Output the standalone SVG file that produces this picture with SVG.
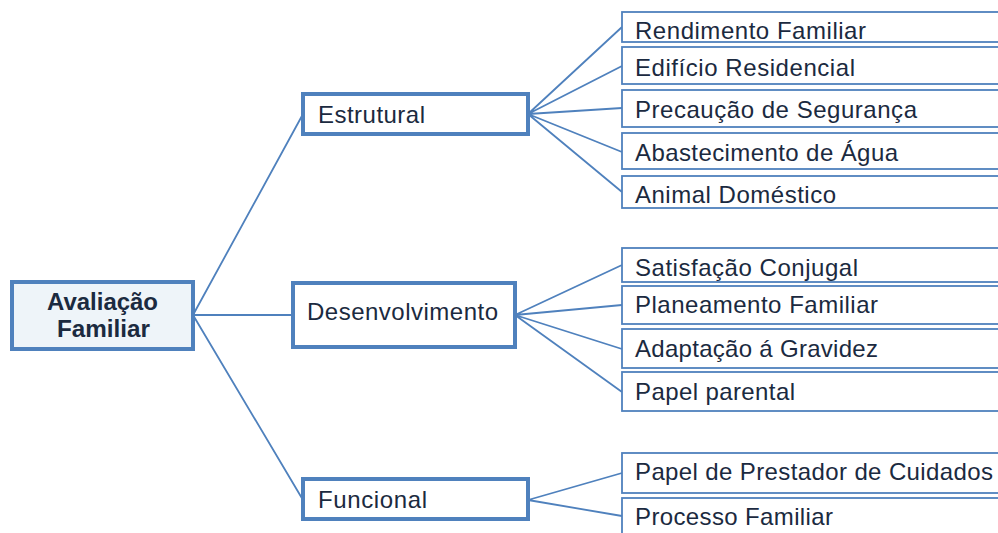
<svg xmlns="http://www.w3.org/2000/svg" width="998" height="533" viewBox="0 0 998 533">
<style>
.conn{fill:none;stroke:#4f81bd;stroke-width:1.8}
.root{fill:#eef4f9;stroke:#4f81bd;stroke-width:4}
.mid{fill:#ffffff;stroke:#4f81bd;stroke-width:4}
.leaf{fill:#ffffff;stroke:#4f81bd;stroke-width:1.8}
.t{font-family:"Liberation Sans",Arial,sans-serif;font-size:24px;fill:#1b2a40}
.tb{font-family:"Liberation Sans",Arial,sans-serif;font-size:23px;font-weight:bold;fill:#1b2a40}
</style>
<rect width="998" height="533" fill="#ffffff"/>
<g id="connectors">
<path class="conn" d="M193,315 L303,114 M193,315 L293,315 M193,315 L303,500"/>
<path class="conn" d="M528,114 L622,27 M528,114 L622,66 M528,114 L622,108 M528,114 L622,152 M528,114 L622,192"/>
<path class="conn" d="M515,315 L622,265 M515,315 L622,305 M515,315 L622,349 M515,315 L622,392"/>
<path class="conn" d="M528,500 L622,473 M528,500 L622,516"/>
</g>
<g id="root">
<rect class="root" x="12" y="282" width="181" height="67"/>
<text class="tb" x="47" y="310" textLength="111" lengthAdjust="spacingAndGlyphs">Avaliação</text>
<text class="tb" x="57" y="337" textLength="93" lengthAdjust="spacingAndGlyphs">Familiar</text>
</g>
<g id="estrutural">
<rect class="mid" x="303" y="94" width="225" height="40"/>
<text class="t" x="318" y="123" textLength="107" lengthAdjust="spacing">Estrutural</text>
</g>
<g id="desenvolvimento">
<rect class="mid" x="293" y="283" width="222" height="64"/>
<text class="t" x="307" y="320" textLength="191" lengthAdjust="spacing">Desenvolvimento</text>
</g>
<g id="funcional">
<rect class="mid" x="303" y="479" width="225" height="40"/>
<text class="t" x="318" y="508" textLength="109" lengthAdjust="spacing">Funcional</text>
</g>
<g id="rendimento-familiar">
<rect class="leaf" x="622" y="12" width="390" height="30"/>
<text class="t" x="635" y="39" textLength="231" lengthAdjust="spacing">Rendimento Familiar</text>
</g>
<g id="edificio-residencial">
<rect class="leaf" x="622" y="47" width="390" height="37"/>
<text class="t" x="635" y="76" textLength="220" lengthAdjust="spacing">Edifício Residencial</text>
</g>
<g id="precaucao-seguranca">
<rect class="leaf" x="622" y="90" width="390" height="37"/>
<text class="t" x="635" y="118" textLength="282" lengthAdjust="spacing">Precaução de Segurança</text>
</g>
<g id="abastecimento-agua">
<rect class="leaf" x="622" y="133" width="390" height="36"/>
<text class="t" x="635" y="161" textLength="263" lengthAdjust="spacing">Abastecimento de Água</text>
</g>
<g id="animal-domestico">
<rect class="leaf" x="622" y="176" width="390" height="32"/>
<text class="t" x="635" y="203" textLength="201" lengthAdjust="spacing">Animal Doméstico</text>
</g>
<g id="satisfacao-conjugal">
<rect class="leaf" x="622" y="248" width="390" height="34"/>
<text class="t" x="635" y="276" textLength="223" lengthAdjust="spacing">Satisfação Conjugal</text>
</g>
<g id="planeamento-familiar">
<rect class="leaf" x="622" y="286" width="390" height="38"/>
<text class="t" x="635" y="313" textLength="243" lengthAdjust="spacing">Planeamento Familiar</text>
</g>
<g id="adaptacao-gravidez">
<rect class="leaf" x="622" y="329" width="390" height="39"/>
<text class="t" x="635" y="357" textLength="243" lengthAdjust="spacing">Adaptação á Gravidez</text>
</g>
<g id="papel-parental">
<rect class="leaf" x="622" y="372" width="390" height="39"/>
<text class="t" x="635" y="400" textLength="160" lengthAdjust="spacing">Papel parental</text>
</g>
<g id="papel-prestador-cuidados">
<rect class="leaf" x="622" y="453" width="390" height="40"/>
<text class="t" x="635" y="480" textLength="358" lengthAdjust="spacing">Papel de Prestador de Cuidados</text>
</g>
<g id="processo-familiar">
<rect class="leaf" x="622" y="498" width="390" height="45"/>
<text class="t" x="635" y="525" textLength="198" lengthAdjust="spacing">Processo Familiar</text>
</g>
</svg>
